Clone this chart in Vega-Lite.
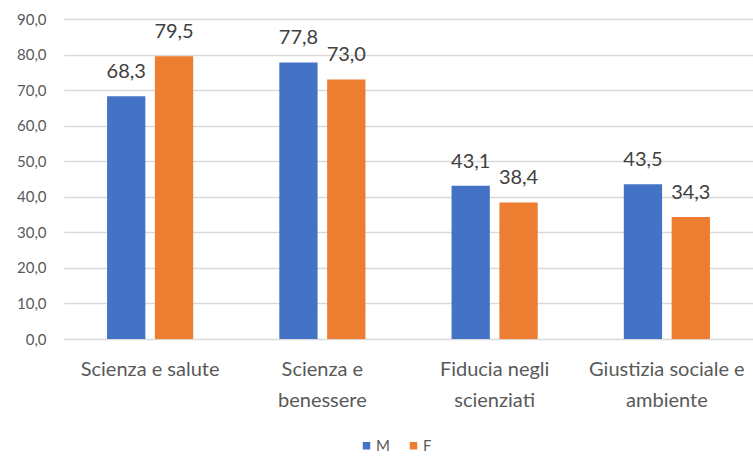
{
  "$schema": "https://vega.github.io/schema/vega-lite/v6.json",
  "width": 689,
  "height": 320,
  "autosize": {"type": "none"},
  "padding": {"left": 64, "top": 19, "right": 0, "bottom": 117},
  "background": "white",
  "config": {
    "locale": {"number": {"decimal": ",", "thousands": ".", "grouping": [3], "currency": ["€", ""]}},
    "view": {"stroke": null},
    "font": "Lato"
  },
  "data": {
    "values": [
      {"cat": "Scienza e salute", "sex": "M", "value": 68.3},
      {"cat": "Scienza e salute", "sex": "F", "value": 79.5},
      {"cat": "Scienza e|benessere", "sex": "M", "value": 77.8},
      {"cat": "Scienza e|benessere", "sex": "F", "value": 73.0},
      {"cat": "Fiducia negli|scienziati", "sex": "M", "value": 43.1},
      {"cat": "Fiducia negli|scienziati", "sex": "F", "value": 38.4},
      {"cat": "Giustizia sociale e|ambiente", "sex": "M", "value": 43.5},
      {"cat": "Giustizia sociale e|ambiente", "sex": "F", "value": 34.3}
    ]
  },
  "encoding": {
    "x": {
      "field": "cat", "type": "nominal", "sort": null,
      "scale": {"paddingInner": 0.5, "paddingOuter": 0.25},
      "axis": {
        "title": null, "labelAngle": 0, "domain": false, "ticks": false,
        "labelExpr": "split(datum.label, '|')",
        "labelFontSize": 20, "labelLineHeight": 31, "labelPadding": 20,
        "labelColor": "#595959", "labelFont": "Lato", "labelBaseline": "top"
      }
    },
    "xOffset": {"field": "sex", "type": "nominal", "sort": ["M", "F"], "scale": {"paddingInner": 0.2}},
    "y": {
      "field": "value", "type": "quantitative",
      "scale": {"domain": [0, 90], "nice": false},
      "axis": {
        "title": null, "values": [0, 10, 20, 30, 40, 50, 60, 70, 80, 90], "format": ".1f",
        "domain": false, "ticks": false, "gridColor": "#D9D9D9", "gridWidth": 1.5,
        "labelFontSize": 15, "labelColor": "#595959", "labelPadding": 18, "labelFont": "Lato"
      }
    }
  },
  "layer": [
    {
      "mark": {"type": "bar"},
      "encoding": {
        "color": {
          "field": "sex", "type": "nominal",
          "scale": {"domain": ["M", "F"], "range": ["#4472C4", "#ED7D31"]},
          "legend": {
            "title": null, "orient": "none", "direction": "horizontal",
            "legendX": 295, "legendY": 419, "symbolType": "square", "symbolSize": 56,
            "labelFontSize": 15, "labelColor": "#595959", "labelOffset": 2, "columnPadding": 16,
            "labelFont": "Lato"
          }
        }
      }
    },
    {
      "mark": {"type": "text", "baseline": "bottom", "dy": -14, "fontSize": 20, "color": "#404040", "font": "Lato"},
      "encoding": {
        "text": {"field": "value", "type": "quantitative", "format": ".1f"}
      }
    }
  ]
}
